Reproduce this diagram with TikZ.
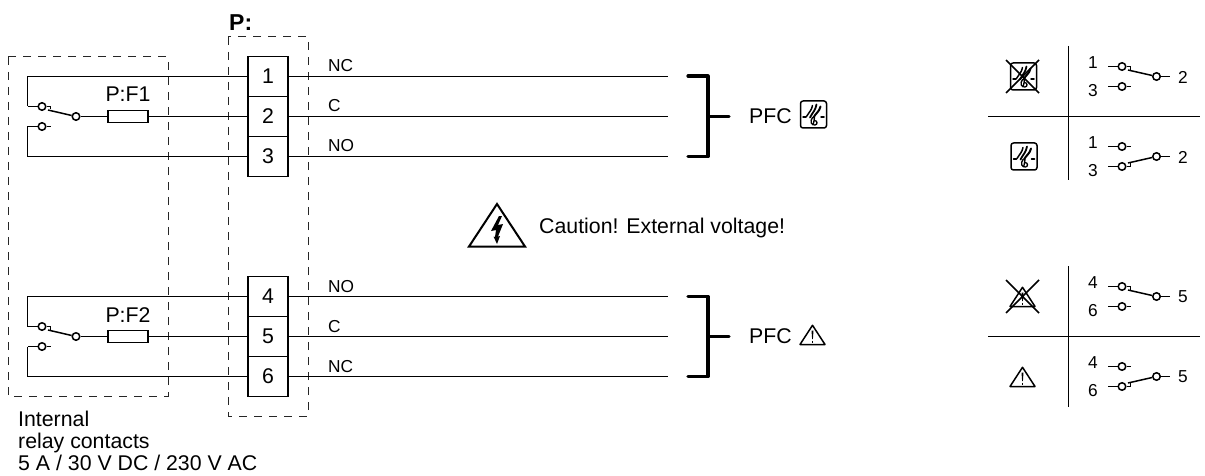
\documentclass[tikz,border=0pt]{standalone}
\usepackage{fontspec}
\setmainfont{Liberation Sans}
\newcommand{\fs}[1]{\fontsize{#1}{#1}\selectfont}
\tikzset{
  x=1pt,y=-1pt,
  wire/.style={line width=1.2pt,black},
  dashbox/.style={line width=1pt,dash pattern=on 8pt off 7pt,black!85},
  term/.style={draw,line width=1.8pt,minimum width=40pt,minimum height=40pt,inner sep=0pt,font=\fs{21.3},anchor=center},
  contact/.style={circle,draw,line width=1.5pt,minimum size=7.5pt,inner sep=0pt,fill=white},
  fuse/.style={draw,line width=1.6pt,minimum width=40pt,minimum height=12pt,inner sep=0pt},
  lbl/.style={font=\fs{21.3},inner sep=0pt},
  small/.style={font=\fs{17.3},inner sep=0pt},
  swnum/.style={font=\fs{17.3},inner sep=0pt},
  brk/.style={line width=3.2pt,line cap=round,line join=round},
  table/.style={line width=1.6pt},
  swl/.style={line width=1.5pt},
  icon/.style={line width=1.5pt,line join=round},
  flame/.style={line width=1.5pt,line cap=round},
  relay/.pic={
    \node[contact] (a) at (42,106.5) {};
    \node[contact] (b) at (42,126.5) {};
    \node[contact] (c) at (76,116.5) {};
    \coordinate (la) at (27.5,106.5);
    \coordinate (lb) at (27.5,126.5);
    \draw[wire,line width=1.6pt] (la) -- (a);
    \draw[wire,line width=1.6pt] (lb) -- (b);
    \draw[wire,line width=1.4pt] (b.east) -- ++(4,0);
    \draw[wire,line width=1.4pt] (a.east) -- ++(4,0) -- ++(0,3);
    \draw[wire,line width=1.5pt] (48,110) -- (c);
  },
  sw/.pic={
    \node[contact] (a) at (1122,66.5) {};
    \node[contact] (b) at (1122,86.5) {};
    \node[contact] (c) at (1156.5,76.5) {};
    \coordinate (la) at (1108,66.5);
    \coordinate (lb) at (1108,86.5);
    \coordinate (rc) at (1170,76.5);
    \coordinate (tb) at (1131,86.5);
    \draw[swl] (la) -- (a);
    \draw[swl] (lb) -- (b) -- (tb);
    \draw[swl] (c) -- (rc);
    \draw[swl] (a.east) -- ++(4,0) -- ++(0,4);
    \draw[swl] (1128,70) -- (c);
  },
  swb/.pic={
    \node[contact] (a) at (1122,146.5) {};
    \node[contact] (b) at (1122,166.5) {};
    \node[contact] (c) at (1156.5,156.5) {};
    \coordinate (la) at (1108,146.5);
    \coordinate (lb) at (1108,166.5);
    \coordinate (rc) at (1170,156.5);
    \coordinate (ta) at (1131,146.5);
    \draw[swl] (la) -- (a) -- (ta);
    \draw[swl] (lb) -- (b);
    \draw[swl] (c) -- (rc);
    \draw[swl] (b.east) -- ++(4,0) -- ++(0,-4);
    \draw[swl] (1128,163) -- (c);
  },
  flameicon/.pic={
    \draw[icon,rounded corners=2.5pt] (-13,-13.5) rectangle (13,13.5);
    \draw[flame] (-10.5,2.5) -- (-7.5,2.5) (7.5,2.5) -- (10.5,2.5);
    \draw[flame] (-7,2) .. controls (-4,-3) and (-2,-4) .. (-1,-9);
    \draw[flame,line width=1.8pt] (-3.5,3) .. controls (-1,-2) and (2,-4) .. (3,-10);
    \draw[flame,line width=2pt] (0,3) .. controls (2,-1) and (6,-3) .. (7,-8);
    \draw[flame,line width=1.3pt] (-1,3) .. controls (-4,7) and (-2,11) .. (1.5,10.5) .. controls (4.5,10) and (4,6) .. (1,6) (0,9) -- (1,3);
  },
  warnicon/.pic={
    \draw[icon,line width=1.5pt] (0,-9.7) -- (12.5,9.5) -- (-12.5,9.5) -- cycle;
    \fill (-1,-4.5) -- (1,-4.5) -- (0.4,4) -- (-0.4,4) -- cycle;
    \draw[line width=1.2pt] (0,5.5) -- (0,7.5);
  }
}
\begin{document}
\begin{tikzpicture}
\useasboundingbox (0,0) rectangle (1205,476);
% dashed boxes
\draw[dashbox] (8,57) rectangle (168,396);
\draw[dashbox] (228,37) rectangle (308,416);
\node[font=\bfseries\fs{23},inner sep=0pt,anchor=base west] (ptitle) at (229,31) {P:};
% terminals
\foreach \n/\y in {1/76.5,2/116.5,3/156.5,4/296.5,5/336.5,6/376.5}
  \node[term] (t\n) at (268,\y) {\n};
% relays
\pic (ra) at (0,0) {relay};
\pic (rb) at (0,220) {relay};
% fuses
\node[fuse] (f1) at (128,116.5) {};
\node[fuse] (f2) at (128,336.5) {};
\node[lbl,anchor=base] (fl1) at (128,102) {P:F1};
\node[lbl,anchor=base] (fl2) at (128,322) {P:F2};
% wires
\draw[wire] (t1.west) -- (27.5,76.5) -- (rala);
\draw[wire] (t3.west) -- (27.5,156.5) -- (ralb);
\draw[wire,line width=1.6pt] (rac) -- (f1);
\draw[wire,line width=1.6pt] (f1) -- (168,116.5);
\draw[wire] (168,116.5) -- (t2.west);
\draw[wire] (t4.west) -- (27.5,296.5) -- (rbla);
\draw[wire] (t6.west) -- (27.5,376.5) -- (rblb);
\draw[wire,line width=1.6pt] (rbc) -- (f2);
\draw[wire,line width=1.6pt] (f2) -- (168,336.5);
\draw[wire] (168,336.5) -- (t5.west);
\foreach \n/\y in {1/76.5,2/116.5,3/156.5,4/296.5,5/336.5,6/376.5}{
  \coordinate (e\n) at (668,\y);
  \draw[wire] (t\n.east) -- (e\n);
}
% wire labels
\node[small,anchor=base west] (l1) at (328,72) {NC};
\node[small,anchor=base west] (l2) at (328,112) {C};
\node[small,anchor=base west] (l3) at (328,152) {NO};
\node[small,anchor=base west] (l4) at (328,292) {NO};
\node[small,anchor=base west] (l5) at (328,332) {C};
\node[small,anchor=base west] (l6) at (328,372) {NC};
% brackets
\draw[brk] (688,76) -- (708,76) -- (708,156.5) -- (688,156.5);
\draw[brk] (708,116.5) -- (729,116.5);
\draw[brk] (688,296.5) -- (708,296.5) -- (708,376.5) -- (688,376.5);
\draw[brk] (708,336.5) -- (729,336.5);
\node[lbl,anchor=base west] (pfc1) at (749,123.5) {PFC};
\node[lbl,anchor=base west] (pfc2) at (749,343.5) {PFC};
\pic at (813.5,114.5) {flameicon};
\pic at (812.5,335) {warnicon};
% caution
\draw[line width=2pt,line join=miter] (497,204) -- (525,246.5) -- (469,246.5) -- cycle;
\fill (499,216) -- (491,231) -- (496,230) -- (495,237) -- (493.5,236.5) -- (497,244) -- (500,236) -- (498,236.5) -- (503,224) -- (498,225) -- (502,216) -- cycle;
\node[lbl,anchor=base west] (caution) at (539,233.5) {Caution! External voltage!};
% note
\node[lbl,anchor=base west] (n1) at (18,426) {Internal};
\node[lbl,anchor=base west] (n2) at (18,448) {relay contacts};
\node[lbl,anchor=base west] (n3) at (18,470) {5 A / 30 V DC / 230 V AC};
% tables
\coordinate (v1a) at (1068.5,46); \coordinate (v1b) at (1068.5,180);
\coordinate (h1a) at (988,116.5); \coordinate (h1b) at (1200,116.5);
\coordinate (v2a) at (1068.5,266); \coordinate (v2b) at (1068.5,407);
\coordinate (h2a) at (988,336.5); \coordinate (h2b) at (1200,336.5);
\draw[table] (v1a) -- (v1b);
\draw[table] (h1a) -- (h1b);
\draw[table] (v2a) -- (v2b);
\draw[table] (h2a) -- (h2b);
\pic at (1023.5,76.5) {flameicon};
\draw[line width=1.6pt] (1006,60) -- (1039,93) (1039,60) -- (1006,93);
\pic at (1024,156.5) {flameicon};
\pic at (1022.5,297) {warnicon};
\draw[line width=1.6pt] (1006,280) -- (1039,313) (1039,280) -- (1006,313);
\pic at (1022.5,377) {warnicon};
% switches
\pic (s1) at (0,0) {sw};
\pic (s2) at (0,0) {swb};
\pic (s3) at (0,220) {sw};
\pic (s4) at (0,220) {swb};
\foreach \nn/\t/\x/\y in {a/1/1093/63,b/3/1093/91,c/2/1183/77,d/1/1093/143,e/3/1093/171,f/2/1183/157,g/4/1093/283,h/6/1093/311,i/5/1183/297,j/4/1093/363,k/6/1093/391,m/5/1183/377}
  \node[swnum] (num\nn) at (\x,\y) {\t};
\end{tikzpicture}
\end{document}
